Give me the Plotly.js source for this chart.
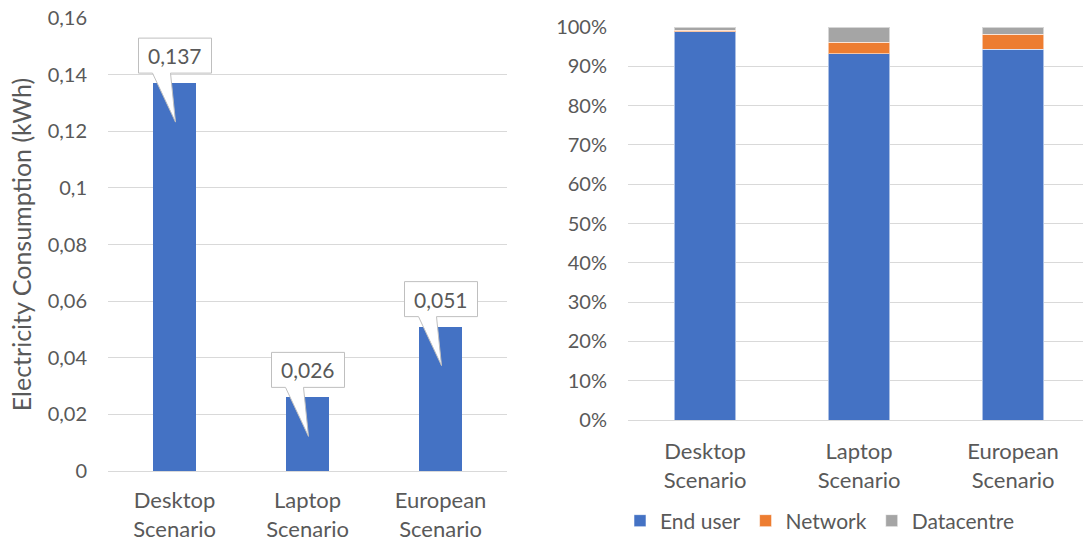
<!DOCTYPE html>
<html>
<head>
<meta charset="utf-8">
<script src="https://cdn.plot.ly/plotly-3.0.1.min.js"></script>
<style>
  html, body { margin: 0; padding: 0; background: #fff; }
  #chart { width: 1083px; height: 545px; }
</style>
</head>
<body>
<div id="chart"></div>
<script>
// ---- Data ----
const scenarios = ['Desktop<br>Scenario', 'Laptop<br>Scenario', 'European<br>Scenario'];
const electricityKWh = [0.137, 0.026, 0.051];
const calloutLabels = ['0,137', '0,026', '0,051'];

const endUserPct = [98.8, 93.2, 94.3];
const networkPct = [0.4, 2.9, 3.8];
const datacentrePct = [0.8, 3.9, 1.9];

const leftTickVals = [0, 0.02, 0.04, 0.06, 0.08, 0.1, 0.12, 0.14, 0.16];
const leftTickText = ['0', '0,02', '0,04', '0,06', '0,08', '0,1', '0,12', '0,14', '0,16'];
const rightTickVals = [0, 10, 20, 30, 40, 50, 60, 70, 80, 90, 100];
const rightTickText = ['0%', '10%', '20%', '30%', '40%', '50%', '60%', '70%', '80%', '90%', '100%'];

// ---- Styles ----
const FONT = 'Lato, "Open Sans", sans-serif';
const TXT = '#595959';
const GRID = '#d9d9d9';
const BLUE = '#4472C4', ORANGE = '#ED7D31', GREY = '#A5A5A5';

const idx = scenarios.map((_, i) => i);

const traces = [
  {
    type: 'bar', x: idx, y: electricityKWh, xaxis: 'x', yaxis: 'y',
    width: 0.32, marker: { color: BLUE }, showlegend: false, hoverinfo: 'y'
  },
  {
    type: 'bar', name: 'End user', x: idx, y: endUserPct, xaxis: 'x2', yaxis: 'y2',
    width: 0.4, marker: { color: BLUE, line: { color: 'rgba(255,255,255,0.55)', width: 1 } }
  },
  {
    type: 'bar', name: 'Network', x: idx, y: networkPct, xaxis: 'x2', yaxis: 'y2',
    width: 0.4, marker: { color: ORANGE, line: { color: 'rgba(255,255,255,0.55)', width: 1 } }
  },
  {
    type: 'bar', name: 'Datacentre', x: idx, y: datacentrePct, xaxis: 'x2', yaxis: 'y2',
    width: 0.4, marker: { color: GREY, line: { color: 'rgba(255,255,255,0.55)', width: 1 } }
  }
];

// Callout bubbles anchored at each bar top (pixel-sized path relative to anchor)
const calloutPath = 'M-36,10 L-22,10 L1,-39 L-4,10 L37,10 L37,45 L-36,45 Z';
const shapes = idx.map(i => ({
  type: 'path', xref: 'x', yref: 'y',
  xsizemode: 'pixel', ysizemode: 'pixel',
  xanchor: i, yanchor: electricityKWh[i],
  path: calloutPath,
  fillcolor: '#ffffff', line: { color: '#bfbfbf', width: 1 }, layer: 'above'
}));
const annotations = idx.map(i => ({
  xref: 'x', yref: 'y', x: i, y: electricityKWh[i],
  text: calloutLabels[i], showarrow: false,
  xshift: 0.5, yshift: 27.5,
  font: { family: FONT, size: 21, color: TXT }
}));

const W = 1083, H = 545;
const layout = {
  width: W, height: H,
  margin: { l: 0, r: 0, t: 0, b: 0 },
  paper_bgcolor: '#fff', plot_bgcolor: '#fff',
  font: { family: FONT, color: TXT, size: 20 },
  barmode: 'stack',
  showlegend: true,
  legend: {
    orientation: 'h', x: 620 / W, xanchor: 'left', y: (H - 521) / H, yanchor: 'middle',
    font: { family: FONT, size: 21, color: TXT }, traceorder: 'normal'
  },
  xaxis: {
    domain: [108 / W, 507 / W], range: [-0.5, 2.5], anchor: 'y',
    tickvals: idx, ticktext: scenarios, showgrid: false, zeroline: false, showline: false,
    ticks: '', tickfont: { size: 22, color: TXT, family: FONT }, ticklabelstandoff: 14
  },
  yaxis: {
    domain: [(H - 471) / H, (H - 18) / H], range: [0, 0.16], anchor: 'x',
    tickvals: leftTickVals, ticktext: leftTickText,
    showgrid: true, gridcolor: GRID, gridwidth: 1, zeroline: true, zerolinecolor: GRID, zerolinewidth: 1,
    ticks: '', tickfont: { size: 20, color: TXT, family: FONT }, ticklabelstandoff: 20,
    title: { text: 'Electricity Consumption (kWh)', font: { size: 25, color: TXT, family: FONT }, standoff: 8 }
  },
  xaxis2: {
    domain: [628 / W, 1], range: [-0.5, -0.5 + 455 / 154], anchor: 'y2',
    tickvals: idx, ticktext: scenarios, showgrid: false, zeroline: false, showline: false,
    ticks: '', tickfont: { size: 22, color: TXT, family: FONT }, ticklabelstandoff: 16
  },
  yaxis2: {
    domain: [(H - 420) / H, (H - 27) / H], range: [0, 100], anchor: 'x2',
    tickvals: rightTickVals, ticktext: rightTickText,
    showgrid: true, gridcolor: GRID, gridwidth: 1, zeroline: true, zerolinecolor: GRID, zerolinewidth: 1,
    ticks: '', tickfont: { size: 20, color: TXT, family: FONT }, ticklabelstandoff: 20
  },
  shapes: shapes,
  annotations: annotations
};

Plotly.newPlot('chart', traces, layout, { displayModeBar: false, staticPlot: true });
</script>
</body>
</html>
